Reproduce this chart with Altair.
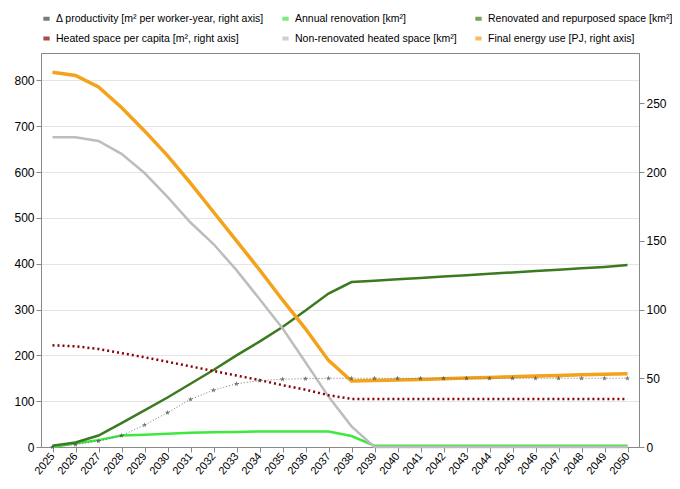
import altair as alt
import pandas as pd

years = list(range(2025, 2051))

# left axis [km²]
annual_renovation = [0, 8, 15, 25, 27, 29, 31, 32, 33, 34, 34, 34, 34, 24, 3,
                     3, 3, 3, 3, 3, 3, 3, 3, 3, 3, 3]
renovated_space = [3, 10, 25, 52, 80, 108, 138, 168, 200, 230, 262, 298, 335, 360, 363,
                   366, 369, 372, 375, 378, 381, 384, 387, 390, 393, 397]
non_renovated = [676, 676, 668, 640, 598, 546, 490, 443, 386, 323, 259, 185, 110, 45, 0,
                 0, 0, 0, 0, 0, 0, 0, 0, 0, 0, 0]

# right axis
heated_per_capita = [74, 73.3, 71.3, 68.3, 65.3, 62, 58.7, 55.3, 52, 48.7, 45, 41.7, 37.7, 35, 35,
                     35, 35, 35, 35, 35, 35, 35, 35, 35, 35, 35]
final_energy = [272.7, 270.3, 262, 247, 230, 212, 192, 171, 150, 129, 107, 86, 63, 48, 48.3,
                48.8, 49.2, 49.7, 50.2, 50.6, 51.1, 51.6, 52, 52.5, 53, 53.3]
productivity = [0, 1.7, 4.3, 8.3, 16, 25, 34.7, 41.3, 46, 48.3, 49.3, 49.7, 50, 50, 50,
                50, 50, 50, 50, 50, 50, 50, 50, 50, 50, 50]

names = ["Δ productivity [m² per worker-year, right axis]", "Annual renovation [km²]",
         "Renovated and repurposed space [km²]", "Heated space per capita [m², right axis]",
         "Non-renovated heated space [km²]", "Final energy use [PJ, right axis]"]
colors = ["#444444", "#3ee83e", "#3b7a20", "#8b0000", "#bdbdbd", "#f5a21b"]

rows = []
for i, y in enumerate(years):
    rows.append({"year": str(y), "series": names[1], "v": annual_renovation[i], "side": "L"})
    rows.append({"year": str(y), "series": names[2], "v": renovated_space[i], "side": "L"})
    rows.append({"year": str(y), "series": names[4], "v": non_renovated[i], "side": "L"})
    rows.append({"year": str(y), "series": names[3], "v": heated_per_capita[i], "side": "R"})
    rows.append({"year": str(y), "series": names[5], "v": final_energy[i], "side": "R"})
    rows.append({"year": str(y), "series": names[0], "v": productivity[i], "side": "R"})
df = pd.DataFrame(rows)

color = alt.Color("series:N", scale=alt.Scale(domain=names, range=colors),
                  legend=alt.Legend(orient="top", columns=3, title=None, symbolType="stroke",
                                    symbolStrokeWidth=4, symbolSize=40, labelFontSize=10.5,
                                    labelFont="Liberation Sans Narrow, Liberation Sans", labelLimit=300,
                                    columnPadding=10, rowPadding=3, offset=6))
x = alt.X("year:O", title=None, axis=alt.Axis(labelAngle=-50, labelFontSize=11, labelFont="Liberation Sans",
                                              grid=False, domainColor="#888", tickColor="#888"))
yl = alt.Y("v:Q", title=None, scale=alt.Scale(domain=[0, 860], nice=False),
           axis=alt.Axis(values=list(range(0, 801, 100)), labelFontSize=12, labelFont="Liberation Sans",
                         gridColor="#e4e4e4", domainColor="#888", tickColor="#888"))
yr = alt.Y("v:Q", title=None, scale=alt.Scale(domain=[0, 286.7], nice=False),
           axis=alt.Axis(orient="right", values=[0, 50, 100, 150, 200, 250], grid=False,
                         labelFontSize=12, labelFont="Liberation Sans", domainColor="#888", tickColor="#888"))

left = alt.Chart(df).transform_filter(alt.datum.side == "L").mark_line(strokeWidth=2.5).encode(
    x=x, y=yl, color=color, detail="series:N")
right_lines = alt.Chart(df).transform_filter(
    (alt.datum.series == names[5])).mark_line(strokeWidth=3.5).encode(x=x, y=yr, color=color)
heated = alt.Chart(df).transform_filter(alt.datum.series == names[3]).mark_line(
    strokeWidth=2.5, strokeDash=[2, 3]).encode(x=x, y=yr, color=color)
prod_line = alt.Chart(df).transform_filter(alt.datum.series == names[0]).mark_line(
    strokeWidth=1, strokeDash=[1, 2], color="#777").encode(x=x, y=yr)
prod_pts = alt.Chart(df).transform_filter(alt.datum.series == names[0]).mark_point(
    shape="M0,-1L0.24,-0.32L0.95,-0.31L0.38,0.12L0.59,0.81L0,0.4L-0.59,0.81L-0.38,0.12L-0.95,-0.31L-0.24,-0.32Z",
    filled=True, size=30).encode(x=x, y=yr, color=color)

right = alt.layer(heated, right_lines, prod_line, prod_pts)
chart = alt.layer(left, right).resolve_scale(y="independent").properties(
    width=664, height=473, autosize=alt.AutoSizeParams(type="fit", contains="padding")
).configure_view(stroke="#888")

chart.save("out.html", embed_options={"renderer": "svg", "actions": False})
